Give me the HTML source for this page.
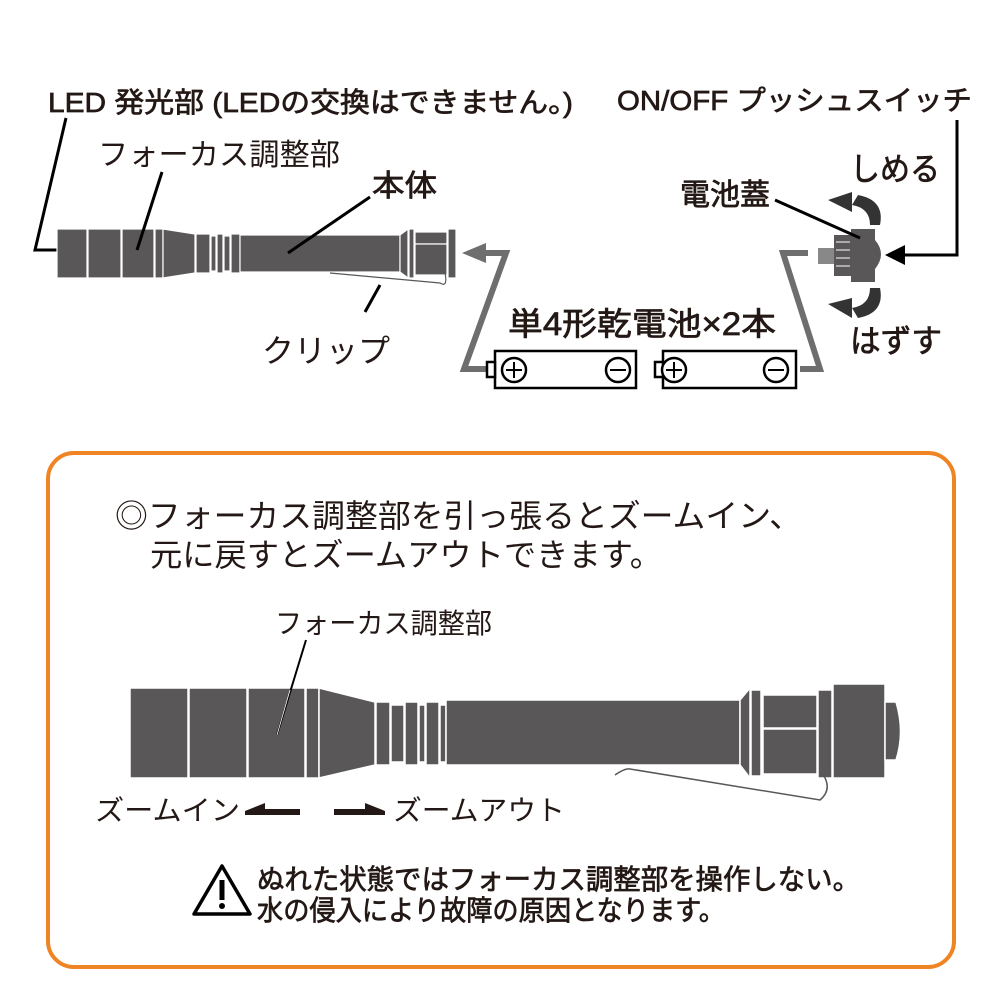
<!DOCTYPE html>
<html><head><meta charset="utf-8"><style>
html,body{margin:0;padding:0;background:#fff;}
svg{display:block;}
text{font-family:"Liberation Sans","Noto Sans CJK JP",sans-serif;fill:#231815;}
.m{stroke:#231815;stroke-width:0.7;}
</style></head><body>
<svg width="1000" height="1000" viewBox="0 0 1000 1000" xmlns="http://www.w3.org/2000/svg">
<!-- top labels -->
<text class="m" x="48" y="112" font-size="28" textLength="525" lengthAdjust="spacingAndGlyphs">LED 発光部 (LEDの交換はできません。)</text>
<text class="m" x="617" y="110" font-size="28" textLength="355" lengthAdjust="spacingAndGlyphs">ON/OFF プッシュスイッチ</text>
<text x="98" y="165" font-size="30" textLength="242" lengthAdjust="spacingAndGlyphs">フォーカス調整部</text>
<text class="m" x="372" y="196" font-size="30" textLength="65" lengthAdjust="spacingAndGlyphs">本体</text>
<text class="m" x="680" y="205" font-size="30" textLength="90" lengthAdjust="spacingAndGlyphs">電池蓋</text>
<text class="m" x="850" y="180" font-size="32" textLength="90" lengthAdjust="spacingAndGlyphs">しめる</text>
<text class="m" x="850" y="352" font-size="32" textLength="92" lengthAdjust="spacingAndGlyphs">はずす</text>
<text class="m" x="508" y="335" font-size="32" textLength="268" lengthAdjust="spacingAndGlyphs">単4形乾電池×2本</text>
<text x="262" y="362" font-size="32" textLength="128" lengthAdjust="spacingAndGlyphs">クリップ</text>

<!-- leaders -->
<polyline points="66,118 35,250 57,250" fill="none" stroke="#000" stroke-width="3"/>
<polyline points="957,120 957,255 900,255" fill="none" stroke="#000" stroke-width="3"/>
<polygon points="885,255 905,245 905,265" fill="#000"/>

<!-- top flashlight -->
<g fill="#595757" stroke="#fff" stroke-width="1.2">
<rect x="57" y="229" width="30" height="49"/>
<rect x="88" y="229" width="33" height="49"/>
<rect x="122" y="229" width="32" height="49"/>
<rect x="155" y="229" width="8" height="49"/>
<polygon points="163,229 195,234 195,273 163,278"/>
<rect x="196" y="234" width="14" height="39"/>
<rect x="211" y="236" width="5" height="35"/>
<rect x="217" y="234" width="6" height="39"/>
<rect x="224" y="236" width="6" height="35"/>
<rect x="231" y="234" width="9" height="39"/>
<rect x="240" y="235" width="160" height="37"/>
<polygon points="400,235 408,229 408,278 400,272"/>
<rect x="409" y="229" width="5" height="49"/>
<rect x="415" y="232" width="32" height="12"/>
<rect x="415" y="244" width="32" height="31"/>
<rect x="448" y="229" width="8" height="49"/>
</g>
<path d="M330,273 L440,283 Q448,288 445,273" fill="none" stroke="#595757" stroke-width="1.2"/>
<polyline points="162,172 137,250" fill="none" stroke="#000" stroke-width="3"/>
<line x1="370" y1="197" x2="288" y2="253" stroke="#000" stroke-width="3"/>
<line x1="380" y1="285" x2="365" y2="312" stroke="#000" stroke-width="3"/>

<!-- gray arrows -->
<polyline points="490,369 464,369 506,253 484,253" fill="none" stroke="#6e6e6e" stroke-width="6" stroke-linejoin="miter"/>
<polygon points="462,253 486,243 486,263" fill="#6e6e6e"/>
<polyline points="808,253 783,253 820,369 800,369" fill="none" stroke="#6e6e6e" stroke-width="6"/>

<!-- batteries -->
<g fill="#fff" stroke="#000" stroke-width="2.5">
<rect x="495" y="351" width="141" height="37"/>
<rect x="487" y="362" width="8" height="15"/>
<circle cx="514" cy="370" r="12"/>
<circle cx="618" cy="370" r="12"/>
<rect x="663" y="351" width="133" height="37"/>
<rect x="655" y="362" width="8" height="15"/>
<circle cx="674" cy="370" r="12"/>
<circle cx="776" cy="370" r="12"/>
</g>
<g stroke="#000" stroke-width="2">
<line x1="506" y1="370" x2="522" y2="370"/><line x1="514" y1="362" x2="514" y2="378"/>
<line x1="610" y1="370" x2="626" y2="370"/>
<line x1="666" y1="370" x2="682" y2="370"/><line x1="674" y1="362" x2="674" y2="378"/>
<line x1="768" y1="370" x2="784" y2="370"/>
</g>

<!-- battery cap -->
<g fill="#595757">
<rect x="818" y="248" width="16" height="16" fill="#888"/>
<rect x="834" y="235" width="17" height="41"/>
<rect x="851" y="229" width="24" height="53"/>
<path d="M875,240 Q887,254 875,269 Z"/>
</g>
<g stroke="#fff" stroke-width="1"><line x1="836" y1="242" x2="850" y2="242"/><line x1="836" y1="250" x2="850" y2="250"/><line x1="836" y1="258" x2="850" y2="258"/><line x1="836" y1="266" x2="850" y2="266"/></g>
<line x1="775" y1="200" x2="860" y2="238" stroke="#000" stroke-width="3"/>
<path d="M858,195 Q885,200 880,225 L870,225 Q870,208 852,205 Z" fill="#333"/>
<polygon points="828,200 852,192 852,212" fill="#333"/>
<path d="M858,318 Q885,313 880,288 L870,288 Q870,305 852,308 Z" fill="#333"/>
<polygon points="828,304 852,298 852,318" fill="#333"/>

<!-- orange box -->
<rect x="48" y="453" width="906" height="514" rx="26" fill="none" stroke="#ef8424" stroke-width="4"/>
<text x="115" y="527" font-size="32" textLength="687" lengthAdjust="spacingAndGlyphs">◎フォーカス調整部を引っ張るとズームイン、</text>
<text x="150" y="566" font-size="32" textLength="512" lengthAdjust="spacingAndGlyphs">元に戻すとズームアウトできます。</text>
<text x="275" y="633" font-size="28" textLength="217" lengthAdjust="spacingAndGlyphs">フォーカス調整部</text>

<!-- bottom flashlight -->
<g fill="#595757" stroke="#fff" stroke-width="1.5">
<rect x="130" y="688" width="58" height="90"/>
<rect x="189" y="688" width="58" height="90"/>
<rect x="248" y="688" width="57" height="90"/>
<rect x="306" y="688" width="13" height="90"/>
<polygon points="319,688 375,702 375,765 319,778"/>
<rect x="376" y="702" width="14" height="63"/>
<rect x="391" y="705" width="13" height="57"/>
<rect x="405" y="702" width="13" height="63"/>
<rect x="419" y="705" width="6" height="57"/>
<rect x="426" y="702" width="13" height="63"/>
<rect x="440" y="705" width="6" height="57"/>
<rect x="446" y="700" width="294" height="65"/>
<polygon points="740,700 750,688 750,778 740,765"/>
<rect x="751" y="690" width="10" height="86"/>
<rect x="763" y="695" width="54" height="33"/>
<rect x="763" y="729" width="54" height="45"/>
<rect x="818" y="690" width="14" height="88"/>
<rect x="833" y="684" width="52" height="94"/>
<path d="M885,702 L896,702 Q905,732 896,760 L885,760 Z"/>
</g>
<line x1="306" y1="640" x2="277" y2="735" stroke="#000" stroke-width="2"/>
<line x1="290" y1="690" x2="277" y2="735" stroke="#fff" stroke-width="0.8"/>
<path d="M615,775 Q625,768 630,769 L820,800 Q832,790 824,776" fill="none" stroke="#595757" stroke-width="1.5"/>

<text x="95" y="820" font-size="28" textLength="145" lengthAdjust="spacingAndGlyphs">ズームイン</text>
<polygon points="245,811 265,803 265,809 300,809 300,815 245,815" fill="#231815"/>
<polygon points="385,811 365,803 365,809 334,809 334,815 385,815" fill="#231815"/>
<text x="393" y="820" font-size="28" textLength="172" lengthAdjust="spacingAndGlyphs">ズームアウト</text>

<!-- warning -->
<path d="M222,866 L250,914 L194,914 Z" fill="none" stroke="#000" stroke-width="3.5" stroke-linejoin="round"/>
<rect x="219.5" y="880" width="5" height="20" fill="#000"/>
<circle cx="222" cy="906" r="3" fill="#000"/>
<text class="m" x="257" y="889" font-size="28" textLength="603" lengthAdjust="spacingAndGlyphs">ぬれた状態ではフォーカス調整部を操作しない。</text>
<text class="m" x="257" y="920" font-size="28" textLength="468" lengthAdjust="spacingAndGlyphs">水の侵入により故障の原因となります。</text>
</svg>
</body></html>
